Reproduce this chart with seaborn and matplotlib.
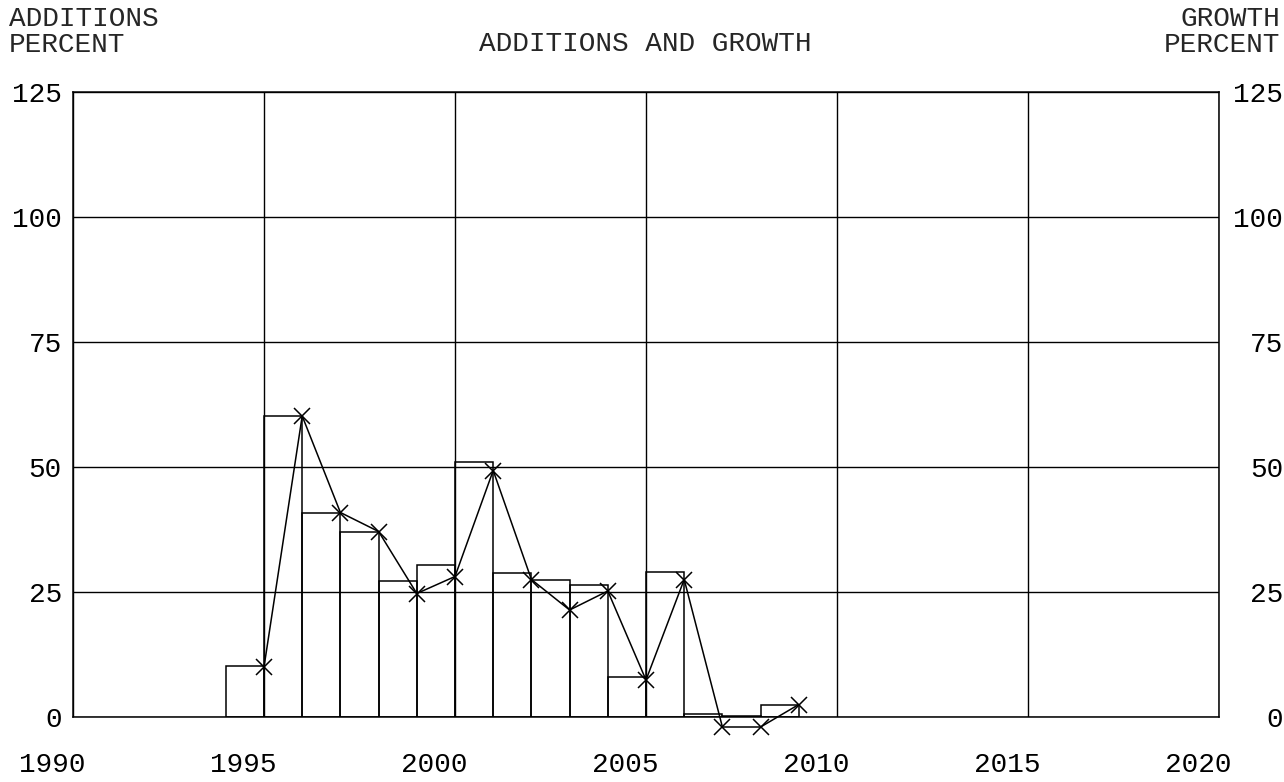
"""
Additions and growth chart (plotter style).
"""

import matplotlib
matplotlib.use('Agg')
import matplotlib.pyplot as plt
import matplotlib.transforms as mtransforms
import seaborn as sns
import pandas as pd
import numpy as np

# Additions: one bar per year, spanning [year-1, year]
bar_years = [1995, 1996, 1997, 1998, 1999, 2000, 2001, 2002,
             2003, 2004, 2005, 2006, 2007, 2008, 2009]
additions = [10.2, 60.2, 40.9, 37.1, 27.2, 30.4, 51.0, 28.8,
             27.5, 26.4, 8.0, 29.0, 0.7, 0.2, 2.5]

# Growth: one point per year
growth_years = bar_years
growth = [10.0, 60.2, 40.9, 37.1, 24.7, 28.1, 49.3, 27.5,
          21.4, 25.2, 7.4, 27.5, -2.0, -2.0, 2.5]

x_ticks = [1990, 1995, 2000, 2005, 2010, 2015, 2020]
y_ticks = [0, 25, 50, 75, 100, 125]

sns.set_theme(style='white')
plt.rcParams['font.family'] = ['Liberation Mono', 'DejaVu Sans Mono']

W, H = 1284, 782
FS = 20
fig = plt.figure(figsize=(W / 100, H / 100), dpi=100)
ax = fig.add_axes([73 / W, 1 - 717 / H, (1219 - 73) / W, (717 - 92) / H])

# Grid first, so the outlined bars sit on top
for xv in x_ticks:
    ax.axvline(xv, color='black', linewidth=1.0, zorder=1)
for yv in y_ticks:
    ax.axhline(yv, color='black', linewidth=1.0, zorder=1)

df_bars = pd.DataFrame({'mid': np.array(bar_years) - 0.5, 'additions': additions})
sns.histplot(data=df_bars, x='mid', weights='additions',
             binwidth=1, binrange=(bar_years[0] - 1, bar_years[-1]),
             fill=False, color='black', linewidth=1.1, ax=ax, zorder=2)

df_growth = pd.DataFrame({'year': growth_years, 'growth': growth})
sns.lineplot(data=df_growth, x='year', y='growth', color='black',
             linewidth=1.1, marker='x', markersize=12, markeredgewidth=1.1,
             markeredgecolor='black', ax=ax, zorder=3, clip_on=False)

ax.set_xlim(1990, 2020)
ax.set_ylim(0, 125)
ax.set_xticks(x_ticks)
ax.set_yticks(y_ticks)
ax.set_xlabel('')
ax.set_ylabel('')
ax.tick_params(axis='both', length=0, labelsize=FS, colors='black')
ax.tick_params(axis='x', pad=25)
ax.tick_params(axis='y', which='both', right=True, labelright=True, pad=8)

# x labels sit a little left of their gridline in the reference
shift = mtransforms.ScaledTranslation(-0.21, 0, fig.dpi_scale_trans)
for lab in ax.get_xticklabels():
    lab.set_transform(lab.get_transform() + shift)

# right-hand labels are right aligned near the figure edge
for tick in ax.yaxis.get_major_ticks():
    tick.label2.set_horizontalalignment('right')
    tick.label2.set_transform(tick.label2.get_transform()
                              + mtransforms.ScaledTranslation(0.53, 0, fig.dpi_scale_trans))

for sp in ax.spines.values():
    sp.set_color('black')
    sp.set_linewidth(1.1)
    sp.set_visible(True)

fig.text(645 / W, 1 - 44 / H, 'ADDITIONS AND GROWTH', fontsize=FS,
         ha='center', va='center')
fig.text(9 / W, 1 - 6 / H, 'ADDITIONS\nPERCENT', fontsize=FS,
         ha='left', va='top', linespacing=1.0)
fig.text(1280 / W, 1 - 6 / H, 'GROWTH\nPERCENT', fontsize=FS,
         ha='right', va='top', linespacing=1.0, multialignment='right')

fig.savefig('out.png', dpi=100, facecolor='white')
